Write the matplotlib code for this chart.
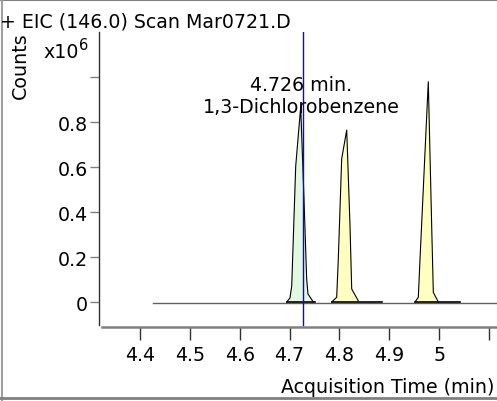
import numpy as np
import matplotlib.pyplot as plt
from matplotlib.lines import Line2D

plt.rcParams['font.family'] = ['DejaVu Sans']

# chromatogram, EIC 146.0 (time in min, counts in units of 1e6)
base_start, base_end = 4.426, 5.116
base_level = -0.003

peak1_t = [4.6942, 4.7008, 4.7043, 4.7123, 4.7223, 4.7289, 4.7343, 4.7369, 4.7476]
peak1_v = [0.0, 0.018, 0.071, 0.604, 0.867, 0.458, 0.102, 0.036, 0.0]
peak2_t = [4.7845, 4.7945, 4.7977, 4.8045, 4.8146, 4.8212, 4.8246, 4.8378]
peak2_v = [0.0, 0.021, 0.19, 0.636, 0.764, 0.339, 0.058, 0.005]
peak3_t = [4.9515, 4.9582, 4.9616, 4.9782, 4.9850, 4.9883, 4.9983]
peak3_v = [0.0, 0.021, 0.19, 0.979, 0.339, 0.043, 0.0]

# integration windows (start, end)
integ = [(4.6942, 4.751), (4.7845, 4.8848), (4.9515, 5.0418)]
fills = ['#e1f8e1', '#ffffc2', '#ffffc2']

marker_time = 4.726
marker_label = ['4.726 min.', '1,3-Dichlorobenzene']

xticks = [4.4, 4.5, 4.6, 4.7, 4.8, 4.9, 5.0, 5.1]
xticklabels = ['4.4', '4.5', '4.6', '4.7', '4.8', '4.9', '5', '']
yticks = [0, 0.2, 0.4, 0.6, 0.8, 1.0]
yticklabels = ['0', '0.2', '0.4', '0.6', '0.8', '']

W, H = 497, 402
FS = 13.7

fig = plt.figure(figsize=(W / 100, H / 100), dpi=100)
ax = fig.add_axes([99 / W, 1 - 328 / H, 1 - 99 / W, (328 - 33) / H])
ax.set_xlim(4.3178, 5.116)
ax.set_ylim(-0.1111, 1.2)

# baseline
ax.plot([base_start, base_end], [base_level, base_level], color='#606060', lw=1.0, zorder=2)

peaks = [(peak1_t, peak1_v), (peak2_t, peak2_v), (peak3_t, peak3_v)]
for (t, v), c, (s, e) in zip(peaks, fills, integ):
    ax.fill(t, v, facecolor=c, edgecolor='none', zorder=3)
    ax.plot(t, v, color='black', lw=0.8, zorder=4)
    ax.plot([s, e], [0, 0], color='black', lw=1.2, zorder=4)

ax.axvline(marker_time, ymin=0.007, ymax=1, color='#1010a0', lw=1.0, zorder=5)
ax.text(4.7235, 0.9436, marker_label[0], ha='center', va='baseline', fontsize=FS, zorder=6)
ax.text(4.7235, 0.843, marker_label[1], ha='center', va='baseline', fontsize=FS, zorder=6)

for s in ['top', 'right']:
    ax.spines[s].set_visible(False)
ax.spines['left'].set_bounds(-0.102, 1.2)
ax.spines['left'].set_color('#303030')
ax.spines['left'].set_linewidth(1.0)
ax.spines['bottom'].set_bounds(4.3238, 5.116)
ax.spines['bottom'].set_color('#808080')
ax.spines['bottom'].set_linewidth(1.8)

ax.set_xticks(xticks)
ax.set_xticklabels(xticklabels, fontsize=FS)
ax.set_yticks(yticks)
ax.set_yticklabels(yticklabels, fontsize=FS)
ax.tick_params(axis='y', direction='out', length=6.5, width=1.0, color='#808080', pad=1.5)
ax.tick_params(axis='x', direction='out', length=9, width=1.0, color='#303030', pad=4)
ax.patch.set_visible(False)

fig.text(0 / W, 1 - 27.5 / H, '+ EIC (146.0) Scan Mar0721.D', fontsize=FS, va='baseline', ha='left')
fig.text(20 / W, 1 - 66 / H, 'Counts', fontsize=FS, rotation=90, va='center', ha='center')
fig.text(43 / W, 1 - 58 / H, 'x10', fontsize=FS, va='baseline', ha='left')
fig.text(79 / W, 1 - 50 / H, '6', fontsize=10.5, va='baseline', ha='left')
fig.text(494 / W, 1 - 393 / H, 'Acquisition Time (min)', fontsize=FS, va='baseline', ha='right')

# frame around the panel
fig.add_artist(Line2D([0, 1], [1 - 0.8 / H, 1 - 0.8 / H], color='#808080', lw=1.5))
fig.add_artist(Line2D([2 / W, 2 / W], [0, 1], color='#a0a0a0', lw=1.5))
fig.add_artist(Line2D([0, 1], [1 - 398.5 / H, 1 - 398.5 / H], color='#808080', lw=2.0))

fig.savefig('out.png', dpi=100)
